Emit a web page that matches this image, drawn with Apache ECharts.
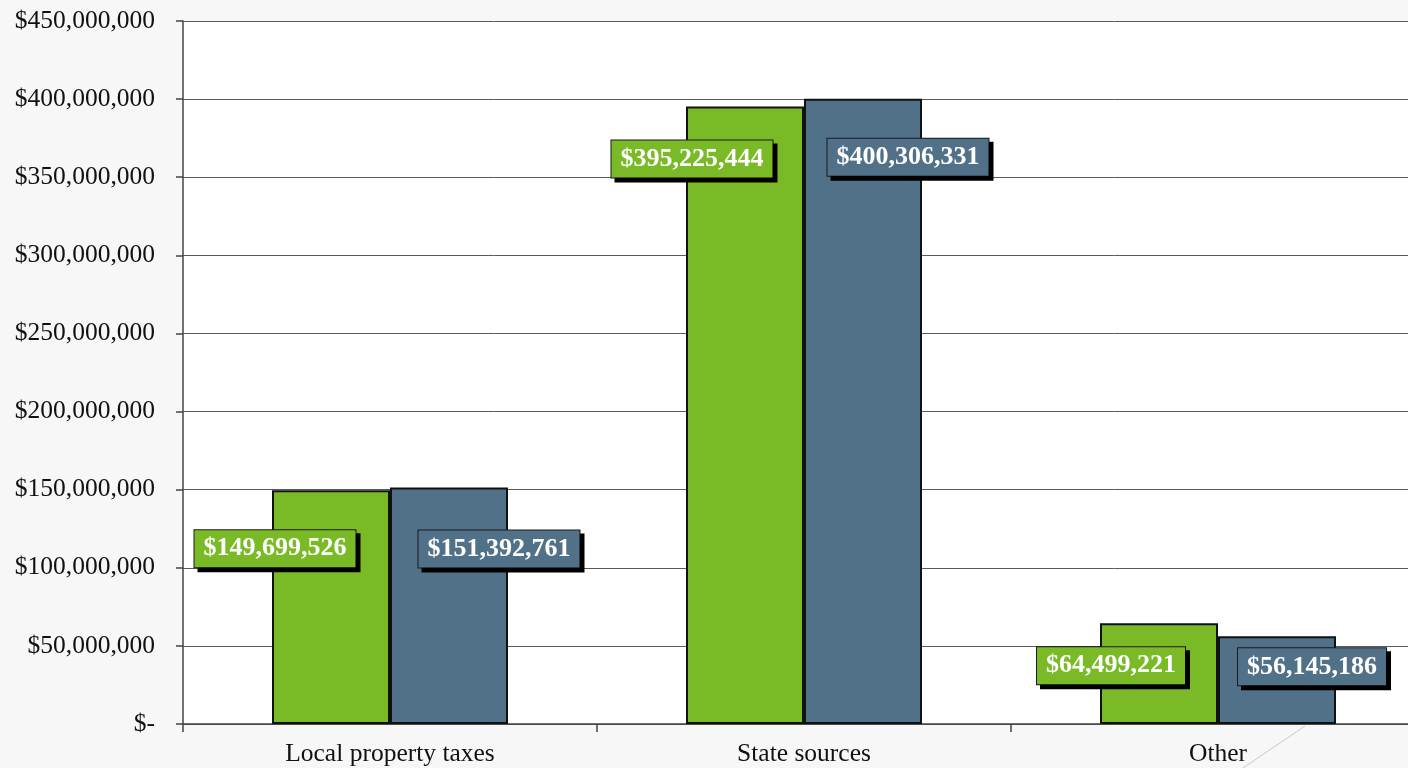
<!DOCTYPE html>
<html>
<head>
<meta charset="utf-8">
<script src="https://cdn.jsdelivr.net/npm/echarts@6/dist/echarts.min.js"></script>
<style>
  html, body { margin: 0; padding: 0; background: #f7f7f7; overflow: hidden; }
  /* the plot runs slightly past the right edge of the window */
  #chart { width: 1425px; height: 768px; }
</style>
</head>
<body>
<div id="chart"></div>
<script>
// Revenue by source, two years side by side
const categories = ['Local property taxes', 'State sources', 'Other'];
const seriesA = [149699526, 395225444, 64499221];
const seriesB = [151392761, 400306331, 56145186];
const yTicks = [0, 50000000, 100000000, 150000000, 200000000, 250000000, 300000000, 350000000, 400000000, 450000000];

// label placement relative to the top centre of each bar (px)
const offsetsA = [[-56, 40], [-53, 34], [-48, 24]];
const offsetsB = [[50, 43], [45, 40], [35, 12]];

const GREEN = '#7aba27';
const BLUE = '#517188';
const SERIF = '"Liberation Serif", "Times New Roman", serif';

function money(v) {
  return '$' + Math.round(v).toLocaleString('en-US');
}

function labelFor(color, off) {
  return {
    show: true,
    position: 'insideTop',
    distance: 0,
    offset: off,
    formatter: p => money(p.value),
    color: '#ffffff',
    fontFamily: SERIF,
    fontWeight: 'bold',
    fontSize: 26,
    lineHeight: 27,
    backgroundColor: color,
    borderColor: '#1a1a1a',
    borderWidth: 1,
    padding: [5, 9, 5, 9],
    shadowColor: '#000000',
    shadowBlur: 0,
    shadowOffsetX: 4,
    shadowOffsetY: 4
  };
}

function buildData(values, offsets, color) {
  return values.map((v, i) => ({ value: v, label: labelFor(color, offsets[i]) }));
}

const chart = echarts.init(document.getElementById('chart'));
chart.setOption({
  backgroundColor: '#f7f7f7',
  animation: false,
  grid: {
    left: 183, top: 21, bottom: 44, right: 0,
    show: true, backgroundColor: '#ffffff', borderWidth: 0
  },
  xAxis: {
    type: 'category',
    data: categories,
    axisLine: { show: true, lineStyle: { color: '#444444', width: 1.5 } },
    axisTick: { show: true, length: 8, alignWithLabel: false, lineStyle: { color: '#444444', width: 1.5 } },
    axisLabel: { color: '#111111', fontFamily: SERIF, fontSize: 25.5, margin: 17 }
  },
  yAxis: {
    type: 'value',
    min: yTicks[0],
    max: yTicks[yTicks.length - 1],
    interval: yTicks[1] - yTicks[0],
    axisLine: { show: true, lineStyle: { color: '#444444', width: 1.5 } },
    axisTick: { show: true, length: 7, lineStyle: { color: '#444444', width: 1.5 } },
    splitLine: { show: true, lineStyle: { color: '#5a5a5a', width: 1 } },
    axisLabel: {
      color: '#111111', fontFamily: SERIF, fontSize: 25.5, margin: 28,
      formatter: v => v === 0 ? '$-' : money(v)
    }
  },
  series: [
    {
      type: 'bar',
      data: buildData(seriesA, offsetsA, GREEN),
      barWidth: 118,
      barGap: '0%',
      itemStyle: { color: GREEN, borderColor: '#111111', borderWidth: 2 },
      z: 2
    },
    {
      type: 'bar',
      data: buildData(seriesB, offsetsB, BLUE),
      barWidth: 118,
      barGap: '0%',
      itemStyle: { color: BLUE, borderColor: '#111111', borderWidth: 2 },
      z: 2
    }
  ],
  graphic: [{
    type: 'line',
    shape: { x1: 1305, y1: 726, x2: 1243, y2: 768 },
    style: { stroke: '#c8c8c8', lineWidth: 1 },
    z: 1
  }]
});
</script>
</body>
</html>
